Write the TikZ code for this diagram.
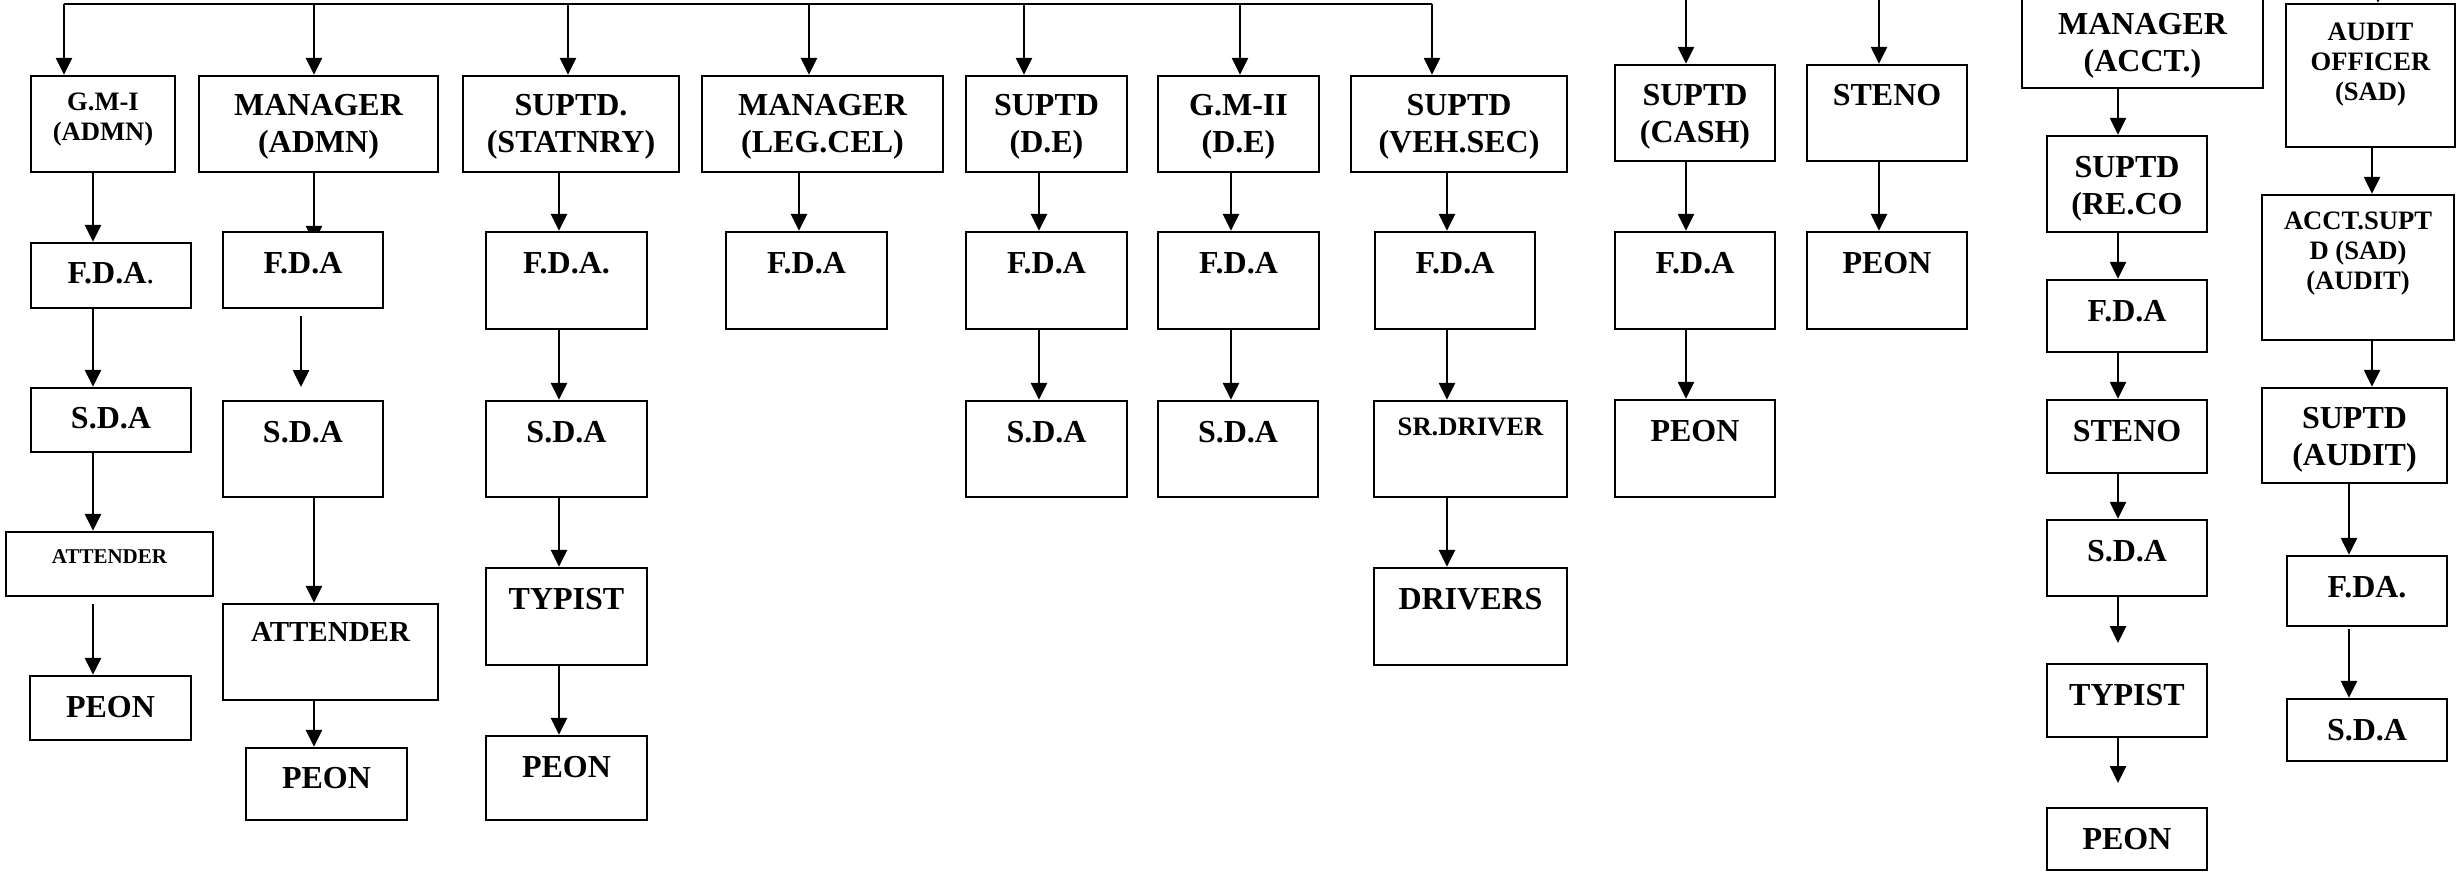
\documentclass[tikz,border=0pt]{standalone}
\usepackage{fontspec}
\setmainfont{Liberation Serif}
\usetikzlibrary{arrows.meta,calc}
\pgfdeclarelayer{bg}
\pgfsetlayers{bg,main}
\tikzset{
  box/.style={draw, line width=1.2pt, fill=white, inner sep=0pt, rectangle},
  arr/.style={line width=1.3pt, -{Triangle[length=8.5pt,width=8pt]}},
  big/.style={font=\bfseries\fontsize{16}{18.5}\selectfont, align=center, inner sep=0pt, anchor=north},
  sml/.style={font=\bfseries\fontsize{13.3}{15}\selectfont, align=center, inner sep=0pt, anchor=north},
  tiny/.style={font=\bfseries\fontsize{10.5}{12}\selectfont, align=center, inner sep=0pt, anchor=north},
  mid/.style={font=\bfseries\fontsize{14.5}{17}\selectfont, align=center, inner sep=0pt, anchor=north},
}
\newcommand{\bx}[8]{%
  \pgfmathsetmacro\bxcx{(#2+#4)/2}%
  \pgfmathsetmacro\bxcy{(#3+#5)/2}%
  \pgfmathsetmacro\bxw{(#4-#2)*0.5}%
  \pgfmathsetmacro\bxh{(#5-#3)*0.5}%
  \node[box, minimum width=\bxw pt, minimum height=\bxh pt] (#1) at (\bxcx,\bxcy) {};%
  \node[#6] (#1-t) at ($(#1.north)+(0,#8)$) {#7};%
}
\begin{document}
\begin{tikzpicture}[x=0.5pt,y=-0.5pt]
\useasboundingbox (0,0) rectangle (2457,872);
% column 1
\bx{gmi}{31}{76}{175}{172}{sml}{G.M-I\\(ADMN)}{18}
\bx{fda1}{31}{243}{191}{308}{big}{F.D.A{\mdseries.}}{20}
\bx{sda1}{31}{388}{191}{452}{big}{S.D.A}{20}
\bx{att1}{6}{532}{213}{596}{tiny}{ATTENDER}{18}
\bx{peon1}{30}{676}{191}{740}{big}{PEON}{21}
% column 2
\bx{mgr}{199}{76}{438}{172}{big}{MANAGER\\(ADMN)}{19}
\bx{fda2}{223}{232}{383}{308}{big}{F.D.A}{21}
\bx{sda2}{223}{401}{383}{497}{big}{S.D.A}{21}
\bx{att2}{223}{604}{438}{700}{mid}{ATTENDER}{19}
\bx{peon2}{246}{748}{407}{820}{big}{PEON}{20}
% column 3
\bx{sup}{463}{76}{679}{172}{big}{SUPTD.\\(STATNRY)}{19}
\bx{fda3}{486}{232}{647}{329}{big}{F.D.A.}{21}
\bx{sda3}{486}{401}{647}{497}{big}{S.D.A}{21}
\bx{typ3}{486}{568}{647}{665}{big}{TYPIST}{21}
\bx{peon3}{486}{736}{647}{820}{big}{PEON}{21}
% column 4
\bx{leg}{702}{76}{943}{172}{big}{MANAGER\\(LEG.CEL)}{19}
\bx{fda4}{726}{232}{887}{329}{big}{F.D.A}{21}
% column 5
\bx{de}{966}{76}{1127}{172}{big}{SUPTD\\(D.E)}{19}
\bx{fda5}{966}{232}{1127}{329}{big}{F.D.A}{21}
\bx{sda5}{966}{401}{1127}{497}{big}{S.D.A}{21}
% column 6
\bx{gm2}{1158}{76}{1319}{172}{big}{G.M-II\\(D.E)}{19}
\bx{fda6}{1158}{232}{1319}{329}{big}{F.D.A}{21}
\bx{sda6}{1158}{401}{1318}{497}{big}{S.D.A}{21}
% column 7
\bx{veh}{1351}{76}{1567}{172}{big}{SUPTD\\(VEH.SEC)}{19}
\bx{fda7}{1375}{232}{1535}{329}{big}{F.D.A}{21}
\bx{srd}{1374}{401}{1567}{497}{sml}{SR.DRIVER}{18}
\bx{drv}{1374}{568}{1567}{665}{big}{DRIVERS}{21}
% column 8
\bx{cash}{1615}{65}{1775}{161}{big}{SUPTD\\(CASH)}{20}
\bx{fda8}{1615}{232}{1775}{329}{big}{F.D.A}{21}
\bx{peon8}{1615}{400}{1775}{497}{big}{PEON}{21}
% column 9
\bx{steno}{1807}{65}{1967}{161}{big}{STENO}{20}
\bx{peon9}{1807}{232}{1967}{329}{big}{PEON}{21}
% column 10
\bx{acct}{2022}{-6}{2263}{88}{big}{MANAGER\\(ACCT.)}{20}
\bx{reco}{2047}{136}{2207}{232}{big}{SUPTD\\(RE.CO}{21}
\bx{fda10}{2047}{280}{2207}{352}{big}{F.D.A}{21}
\bx{steno10}{2047}{400}{2207}{473}{big}{STENO}{21}
\bx{sda10}{2047}{520}{2207}{596}{big}{S.D.A}{21}
\bx{typ10}{2047}{664}{2207}{737}{big}{TYPIST}{21}
\bx{peon10}{2047}{808}{2207}{870}{big}{PEON}{21}
% column 11
\bx{aud}{2286}{4}{2455}{147}{sml}{AUDIT\\OFFICER\\(SAD)}{20}
\bx{acs}{2262}{195}{2454}{340}{sml}{ACCT.SUPT\\D (SAD)\\(AUDIT)}{18}
\bx{supa}{2262}{388}{2447}{483}{big}{SUPTD\\(AUDIT)}{20}
\bx{fdaa}{2287}{556}{2447}{626}{big}{F.DA.}{21}
\bx{sdaa}{2287}{699}{2447}{761}{big}{S.D.A}{21}
% coordinates
\coordinate (t1) at (64,4);
\coordinate (t2) at (314,4);
\coordinate (t3) at (568,4);
\coordinate (t4) at (809,4);
\coordinate (t5) at (1024,4);
\coordinate (t6) at (1240,4);
\coordinate (t7) at (1432,4);
\coordinate (t8) at (1686,-10);
\coordinate (t9) at (1879,-10);
\coordinate (t11) at (2378,-10);
\coordinate (xa) at (93,0);
\coordinate (xb) at (314,0);
\coordinate (xc) at (559,0);
\coordinate (xd) at (799,0);
\coordinate (xe) at (1039,0);
\coordinate (xf) at (1231,0);
\coordinate (xg) at (1447,0);
\coordinate (xh) at (1686,0);
\coordinate (xi) at (1879,0);
\coordinate (xj) at (2118,0);
\coordinate (xk) at (2372,0);
\coordinate (xl) at (2349,0);
\coordinate (fa) at (93,604);
\coordinate (fb1) at (301,316);
\coordinate (fb2) at (301,387);
\coordinate (fj1) at (2118,643);
\coordinate (fj2) at (2118,783);
\coordinate (fl) at (2349,629);
\begin{pgfonlayer}{bg}
\draw[line width=1.3pt] (t1) -- (t7);
\foreach \t/\n in {t1/gmi,t2/mgr,t3/sup,t4/leg,t5/de,t6/gm2,t7/veh,t8/cash,t9/steno,t11/aud}
  \draw[arr] (\t) -- (\t |- \n.north);
% column 1
\draw[arr] (xa |- gmi.south) -- (xa |- fda1.north);
\draw[arr] (xa |- fda1.south) -- (xa |- sda1.north);
\draw[arr] (xa |- sda1.south) -- (xa |- att1.north);
\draw[arr] (fa) -- (xa |- peon1.north);
% column 2
\draw[arr, shorten >=-6pt] (xb |- mgr.south) -- (xb |- fda2.north);
\draw[arr] (fb1) -- (fb2);
\draw[arr] (xb |- sda2.south) -- (xb |- att2.north);
\draw[arr] (xb |- att2.south) -- (xb |- peon2.north);
% column 3
\draw[arr] (xc |- sup.south) -- (xc |- fda3.north);
\draw[arr] (xc |- fda3.south) -- (xc |- sda3.north);
\draw[arr] (xc |- sda3.south) -- (xc |- typ3.north);
\draw[arr] (xc |- typ3.south) -- (xc |- peon3.north);
% column 4
\draw[arr] (xd |- leg.south) -- (xd |- fda4.north);
% column 5
\draw[arr] (xe |- de.south) -- (xe |- fda5.north);
\draw[arr] (xe |- fda5.south) -- (xe |- sda5.north);
% column 6
\draw[arr] (xf |- gm2.south) -- (xf |- fda6.north);
\draw[arr] (xf |- fda6.south) -- (xf |- sda6.north);
% column 7
\draw[arr] (xg |- veh.south) -- (xg |- fda7.north);
\draw[arr] (xg |- fda7.south) -- (xg |- srd.north);
\draw[arr] (xg |- srd.south) -- (xg |- drv.north);
% column 8
\draw[arr] (xh |- cash.south) -- (xh |- fda8.north);
\draw[arr] (xh |- fda8.south) -- (xh |- peon8.north);
% column 9
\draw[arr] (xi |- steno.south) -- (xi |- peon9.north);
% column 10
\draw[arr] (xj |- acct.south) -- (xj |- reco.north);
\draw[arr] (xj |- reco.south) -- (xj |- fda10.north);
\draw[arr] (xj |- fda10.south) -- (xj |- steno10.north);
\draw[arr] (xj |- steno10.south) -- (xj |- sda10.north);
\draw[arr] (xj |- sda10.south) -- (fj1);
\draw[arr] (xj |- typ10.south) -- (fj2);
% column 11
\draw[arr] (xk |- aud.south) -- (xk |- acs.north);
\draw[arr] (xk |- acs.south) -- (xk |- supa.north);
\draw[arr] (xl |- supa.south) -- (xl |- fdaa.north);
\draw[arr] (fl) -- (xl |- sdaa.north);
\end{pgfonlayer}
\end{tikzpicture}
\end{document}
